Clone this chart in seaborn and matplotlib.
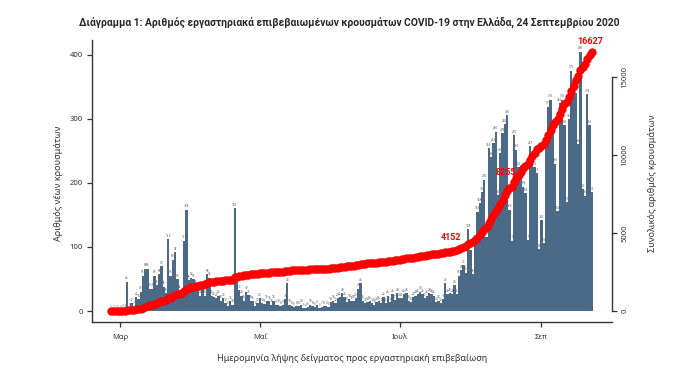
import numpy as np
import pandas as pd
import seaborn as sns
import matplotlib.pyplot as plt

# daily lab-confirmed cases by sampling date, 26 Feb - 23 Sep 2020
feb = [1, 1, 1, 1]
mar = [1, 2, 3, 46, 5, 12, 7, 22, 18, 30, 55, 66, 66, 35, 35, 55, 40, 58, 70, 38,
       28, 112, 55, 80, 92, 50, 32, 24, 110, 158, 48]
apr = [52, 50, 40, 33, 24, 38, 24, 58, 52, 24, 22, 20, 24, 16, 20, 12, 8, 15, 10, 160,
       50, 33, 24, 16, 30, 25, 16, 15, 8, 12]
may = [20, 12, 11, 16, 15, 10, 16, 9, 10, 8, 9, 18, 44, 10, 8, 6, 8, 8, 10, 5,
       4, 6, 10, 8, 6, 9, 5, 7, 8, 8, 6]
jun = [14, 16, 12, 20, 22, 28, 22, 14, 18, 15, 16, 20, 35, 44, 16, 12, 14, 15, 12, 10,
       14, 15, 12, 22, 12, 24, 14, 26, 17, 28]
jul = [20, 20, 26, 28, 16, 14, 22, 24, 26, 30, 26, 20, 24, 28, 26, 24, 14, 16, 12, 18,
       44, 26, 28, 26, 40, 26, 55, 64, 72, 60, 128]
aug = [95, 58, 110, 155, 168, 186, 205, 116, 254, 240, 262, 280, 181, 246, 278, 292, 306, 158, 110, 275,
       252, 225, 210, 194, 184, 111, 257, 241, 225, 215, 96]
sep = [142, 106, 261, 319, 330, 287, 230, 156, 325, 330, 290, 170, 300, 375, 353, 340, 260, 405, 190, 180,
       338, 290, 185]

tick_dates = ["2020-03-01", "2020-05-01", "2020-07-01", "2020-09-01"]
tick_labels = ["Μαρ", "Μαΐ", "Ιουλ", "Σεπ"]
marked_totals = [4152, 8255, 16627]

title = "Διάγραμμα 1: Αριθμός εργαστηριακά επιβεβαιωμένων κρουσμάτων COVID-19 στην Ελλάδα, 24 Σεπτεμβρίου 2020"
xlab = "Ημερομηνία λήψης δείγματος προς εργαστηριακή επιβεβαίωση"
ylab_left = "Αριθμός νέων κρουσμάτων"
ylab_right = "Συνολικός αριθμός κρουσμάτων"

daily = feb + mar + apr + may + jun + jul + aug + sep
dates = pd.date_range("2020-02-26", periods=len(daily), freq="D")
df = pd.DataFrame({"date": dates, "day": np.arange(len(daily)), "cases": daily})
df["total"] = df["cases"].cumsum()

sns.set_style("ticks")
plt.rcParams["font.family"] = ["Noto Sans", "DejaVu Sans"]

bar_color = "#4b6a88"
dark = "#333333"

fig = plt.figure(figsize=(6.98, 3.76), dpi=100)
ax = fig.add_axes([92 / 698, 54.3 / 376, 520 / 698, 281.7 / 376])

sns.barplot(data=df, x="day", y="cases", native_scale=True, width=1.0,
            color=bar_color, saturation=1, linewidth=0, ax=ax)

for d, v in zip(df["day"], df["cases"]):
    ax.text(d, v + 2, str(v), fontsize=2.2, ha="center", va="bottom", color="#555555")

ax2 = ax.twinx()
sns.lineplot(data=df, x="day", y="total", color="red", marker="o", markersize=6,
             markeredgewidth=0, linewidth=3.5, ax=ax2, zorder=3)

offsets = {4152: (-3, 6, "right"), 8255: (-6, 7, "center"), 16627: (-1.5, 7, "center")}
for val in marked_totals:
    i = int(np.argmin(np.abs(df["total"].to_numpy() - val)))
    dx, dy, ha = offsets[val]
    ax2.annotate(str(val), xy=(df["day"][i], df["total"][i]), xytext=(dx, dy),
                 textcoords="offset points", ha=ha, va="center", fontsize=6.5,
                 fontweight="bold", family=["Roboto", "DejaVu Sans"], color="red",
                 zorder=2, annotation_clip=False)

ax.set_xlim(-8.3, 218.8)
ax.set_ylim(-16.7, 423)
ax2.set_ylim(-686, 17372)

tick_pos = [df.loc[df["date"] == pd.Timestamp(t), "day"].iloc[0] for t in tick_dates]
ax.set_xticks(tick_pos)
ax.set_xticklabels(tick_labels)
ax.set_yticks([0, 100, 200, 300, 400])
ax2.set_yticks([0, 5000, 10000, 15000])

ax.tick_params(axis="both", direction="out", length=3.6, width=0.9, color=dark,
               labelsize=5.5, labelcolor=dark, pad=3)
ax.tick_params(axis="x", pad=5)
ax2.tick_params(axis="y", direction="out", length=3.6, width=0.9, color=dark,
                labelsize=5.5, labelcolor=dark, pad=3, labelrotation=90)
for lbl in ax2.get_yticklabels():
    lbl.set_va("center")

for s in ["top", "right"]:
    ax.spines[s].set_visible(False)
for s in ["top", "left", "bottom"]:
    ax2.spines[s].set_visible(False)
ax2.spines["right"].set_bounds(0, 15000)
for sp in [ax.spines["left"], ax.spines["bottom"], ax2.spines["right"]]:
    sp.set_color(dark)
    sp.set_linewidth(1.0)

ax.set_xlabel(xlab, fontsize=6.5, color=dark)
ax.xaxis.set_label_coords(0.5, -0.115)
ax.set_ylabel(ylab_left, fontsize=6.5, color=dark)
ax.yaxis.set_label_coords(-0.056, 0.49)
ax2.set_ylabel(ylab_right, fontsize=6.5, color=dark, rotation=90)
ax2.yaxis.set_label_coords(1.069, 0.49)

fig.text(0.5, 1 - 22 / 376, title, ha="center", va="center", fontsize=7.4,
         fontweight="bold", family=["Roboto", "DejaVu Sans"])

fig.savefig("out.png", dpi=100)
